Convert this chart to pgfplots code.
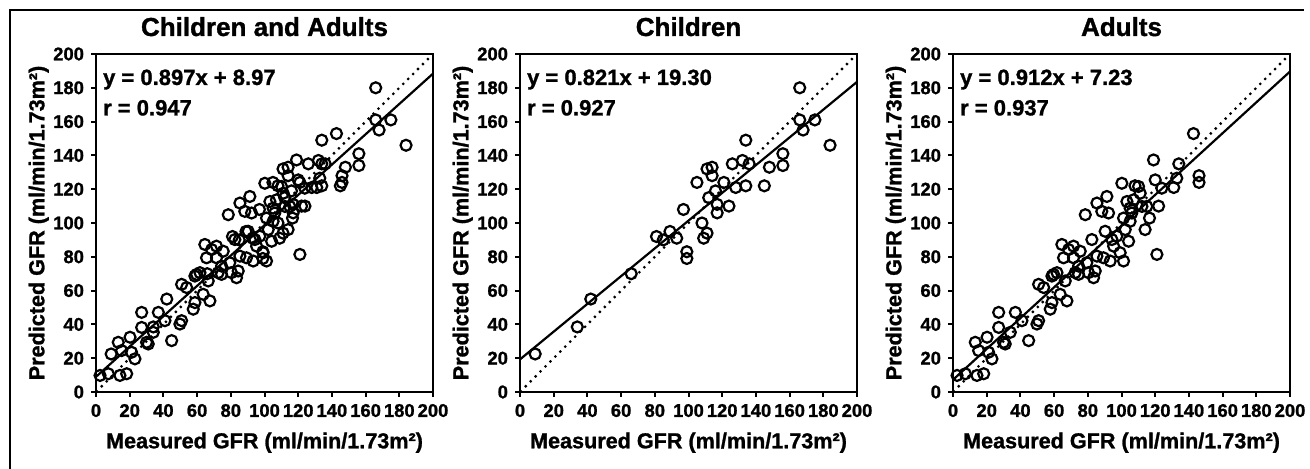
\documentclass[border=0pt]{standalone}
\usepackage{pgfplots}
\pgfplotsset{compat=1.18}
\usepackage{pgfplotstable}
\usepackage{fontspec}
\setmainfont{Liberation Sans}[BoldFeatures={FakeBold=1.2}]

\pgfplotstableread{
x y
9 22.5
34 38.5
42 55
66 70
81 92
85 90
89 95
93 91
97 108
99 83
99 79
105 124
108 100
109 91
111 94
111 132
114 133
114 128
112 115
116 119
117 111
117 106
121 124
124 110
126 135
128 121
132 137
134 149
134 122
136 135
145 122
148 133
156 141
156 134
166 180
166 161
168 155
175 161
184 146
}\children

\pgfplotstableread{
x y
2.4 9.8
7.3 10.8
13.2 29.4
14.2 9.8
18.2 10.8
15.2 24.5
20.2 32.4
21.1 23.5
23.1 19.6
27.1 47.1
27.1 38.2
30 29.4
31 28.4
34 35.3
37 47.1
40.9 42.2
44.9 30.4
50.8 42.2
49.8 40.2
50.8 63.7
53.8 61.8
57.7 49
58.7 52.9
58.7 68.6
59.7 69.6
61.7 70.6
63.6 57.8
64.6 87.3
65.6 79.4
66.6 65.7
67.6 53.9
68.6 84.3
71.5 86.3
71.5 79.4
72.5 70.6
74.5 74.5
75.5 83.3
74.5 69.6
78.5 104.9
79.4 76.5
80.4 70.6
82.4 90.2
83.4 67.6
84.4 71.6
85.4 80.4
85.4 111.8
88.3 106.9
89.3 79.4
90.3 95.1
91.3 115.7
92.3 105.9
93.3 77.5
94.3 90.2
95.3 86.3
97.2 92.2
99.2 82.4
101.2 77.5
100.2 123.5
101.2 102.9
102.2 96.1
103.2 112.7
104.2 89.2
105.1 108.8
105.1 101
106.1 105.9
107.1 113.7
108 122
110.1 121.6
111.1 117.6
112.1 109.8
114 96.1
115 109.8
116.6 102.9
119 137.3
120 125.5
121 81.4
122 110
123.9 120.6
131 121
132.8 126.5
134 135
142.7 152.9
146 128
146 124
}\adults

\pgfplotsset{gfr/.style={
  width=168.5pt, height=169pt, scale only axis,
  xmin=0, xmax=200, ymin=0, ymax=200,
  xtick={0,20,...,200}, ytick={0,20,...,200},
  tick align=outside, tick pos=left,
  major tick length=2.5pt,
  axis line style={line width=1.1pt},
  every tick/.style={black, line width=1pt},
  tick label style={font=\fontsize{9.2}{10}\selectfont\bfseries},
  /pgf/number format/assume math mode=true,
  title style={font=\fontsize{13}{14}\selectfont\bfseries, at={(0.5,1)}, anchor=base, yshift=3pt},
  xlabel={Measured GFR (ml/min/1.73m²)},
  ylabel={Predicted GFR (ml/min/1.73m²)},
  label style={font=\fontsize{10.8}{12}\selectfont\bfseries},
  xlabel style={at={(axis description cs:0.5,-0.15)}, anchor=center},
  ylabel style={at={(axis description cs:-0.17,0.5)}, anchor=center},
  scatter/.style={only marks, mark=o, mark size=2.75pt, mark options={line width=1.1pt, black}},
  fitline/.style={black, line width=1.1pt},
  idline/.style={black, line width=1.1pt, dash pattern=on 1.1pt off 2.4pt},
}}

\begin{document}
\begin{tikzpicture}
\path[use as bounding box] (0,0) rectangle (655pt,234.5pt);
\draw[line width=0.75pt] (5pt,0pt) -- (5pt,229.5pt) -- (652pt,229.5pt);

\begin{axis}[gfr, at={(48pt,38.5pt)}, anchor=south west, title={Children and Adults}]
\addplot[idline] coordinates {(0,0) (200,200)};
\addplot[fitline] coordinates {(0,8.97) (200,188.37)};
\addplot[scatter] table[x=x,y=y] {\adults};
\addplot[scatter] table[x=x,y=y] {\children};
\node[anchor=north west, font=\fontsize{11}{12}\selectfont\bfseries, inner sep=0pt] at (rel axis cs:0.02,0.955) {y = 0.897x + 8.97};
\node[anchor=north west, font=\fontsize{11}{12}\selectfont\bfseries, inner sep=0pt] at (rel axis cs:0.02,0.865) {r = 0.947};
\end{axis}

\begin{axis}[gfr, at={(260pt,38.5pt)}, anchor=south west, title={Children}]
\addplot[idline] coordinates {(0,0) (200,200)};
\addplot[fitline] coordinates {(0,19.30) (200,183.5)};
\addplot[scatter] table[x=x,y=y] {\children};
\node[anchor=north west, font=\fontsize{11}{12}\selectfont\bfseries, inner sep=0pt] at (rel axis cs:0.02,0.955) {y = 0.821x + 19.30};
\node[anchor=north west, font=\fontsize{11}{12}\selectfont\bfseries, inner sep=0pt] at (rel axis cs:0.02,0.865) {r = 0.927};
\end{axis}

\begin{axis}[gfr, at={(476.5pt,38.5pt)}, anchor=south west, title={Adults}]
\addplot[idline] coordinates {(0,0) (200,200)};
\addplot[fitline] coordinates {(0,7.23) (200,189.63)};
\addplot[scatter] table[x=x,y=y] {\adults};
\node[anchor=north west, font=\fontsize{11}{12}\selectfont\bfseries, inner sep=0pt] at (rel axis cs:0.02,0.955) {y = 0.912x + 7.23};
\node[anchor=north west, font=\fontsize{11}{12}\selectfont\bfseries, inner sep=0pt] at (rel axis cs:0.02,0.865) {r = 0.937};
\end{axis}
\end{tikzpicture}
\end{document}
